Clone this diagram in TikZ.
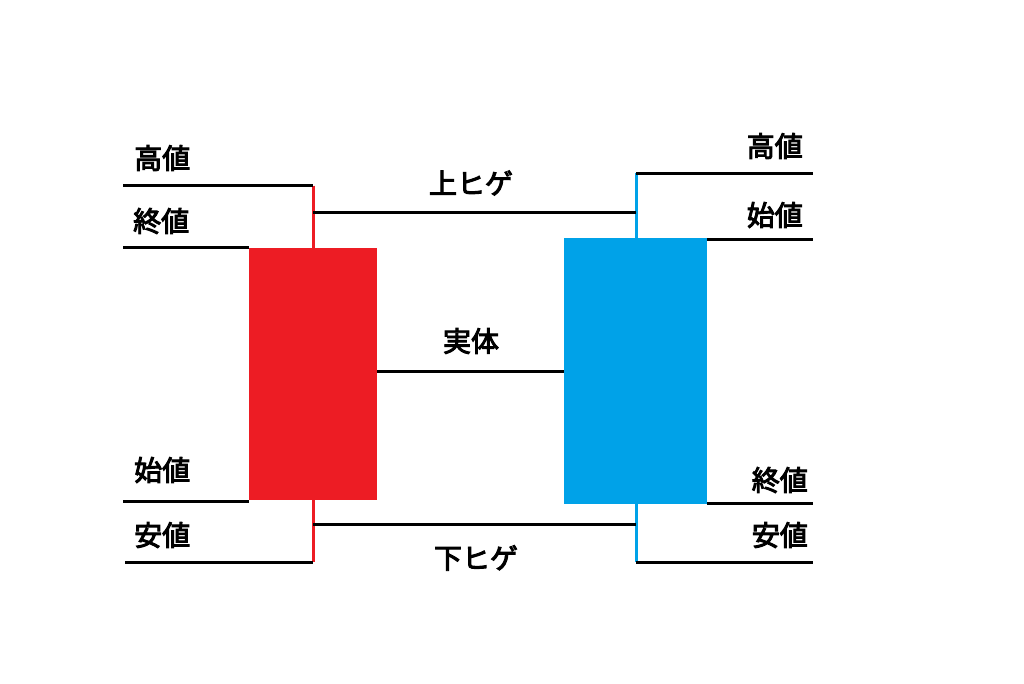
\documentclass[tikz,border=0pt]{standalone}
\usepackage{fontspec}
\newfontfamily\jp[FakeBold=3.5]{Noto Sans CJK JP}
\definecolor{candlered}{HTML}{ED1C24}
\definecolor{candleblue}{HTML}{00A2E8}
\begin{document}
\begin{tikzpicture}[x=1pt,y=-1pt,
  lbl/.style={font=\jp\fontsize{28}{30}\selectfont, inner sep=0pt},
  lineblk/.style={draw=black, line width=3pt},
  wick/.style={line width=3pt},
  body/.style={minimum width=#1, inner sep=0pt, draw=none},
]
\useasboundingbox[fill=white] (0,0) rectangle (1024,683);
% bodies
\node[body=128pt, minimum height=252pt, fill=candlered] (redbody) at (313,374) {};
\node[body=143pt, minimum height=266pt, fill=candleblue] (bluebody) at (635.5,371) {};
% coordinates
\coordinate (rwt) at (313,185.5);
\coordinate (rwb) at (313,562);
\coordinate (bwt) at (636,173);
\coordinate (bwb) at (636,562);
\coordinate (lh) at (123,185.5);
\coordinate (lc) at (123,247);
\coordinate (lo) at (123,501);
\coordinate (ll) at (125,562);
\coordinate (rh) at (813,173);
\coordinate (ro) at (813,239);
\coordinate (rc) at (813,503);
\coordinate (rl) at (813,562);
\coordinate (uu1) at (313,212);
\coordinate (uu2) at (636,212);
\coordinate (dd1) at (313,524);
\coordinate (dd2) at (636,524);
\coordinate (bb1) at (377,371);
\coordinate (bb2) at (564,371);
% wicks
\draw[candlered, wick] (rwt) -- (redbody.north);
\draw[candlered, wick] (redbody.south) -- (rwb);
\draw[candleblue, wick] (bwt) -- (bluebody.north -| bwt);
\draw[candleblue, wick] (bluebody.south -| bwb) -- (bwb);
% left lines
\draw[lineblk] (lh) -- (rwt);
\draw[lineblk] (lc) -- (lc -| redbody.west);
\draw[lineblk] (lo) -- (lo -| redbody.west);
\draw[lineblk] (ll) -- (rwb);
% middle lines
\draw[lineblk] (uu1) -- (uu2);
\draw[lineblk] (bb1) -- (bb2);
\draw[lineblk] (dd1) -- (dd2);
% right lines
\draw[lineblk] (bwt) -- (rh);
\draw[lineblk] (ro -| bluebody.east) -- (ro);
\draw[lineblk] (rc -| bluebody.east) -- (rc);
\draw[lineblk] (bwb) -- (rl);
% labels
\node[lbl, anchor=west] (tlh) at (134,158) {高値};
\node[lbl, anchor=west] (tlc) at (133,221) {終値};
\node[lbl, anchor=west] (tlo) at (134,470) {始値};
\node[lbl, anchor=west] (tll) at (134,535) {安値};
\node[lbl, anchor=east] (trh) at (803,146) {高値};
\node[lbl, anchor=east] (tro) at (803,215) {始値};
\node[lbl, anchor=east] (trc) at (808,480) {終値};
\node[lbl, anchor=east] (trl) at (808,535) {安値};
\node[lbl] (tup) at (471,183) {上ヒゲ};
\node[lbl] (tbody) at (471,341) {実体};
\node[lbl] (tdown) at (476,558) {下ヒゲ};
\end{tikzpicture}
\end{document}
